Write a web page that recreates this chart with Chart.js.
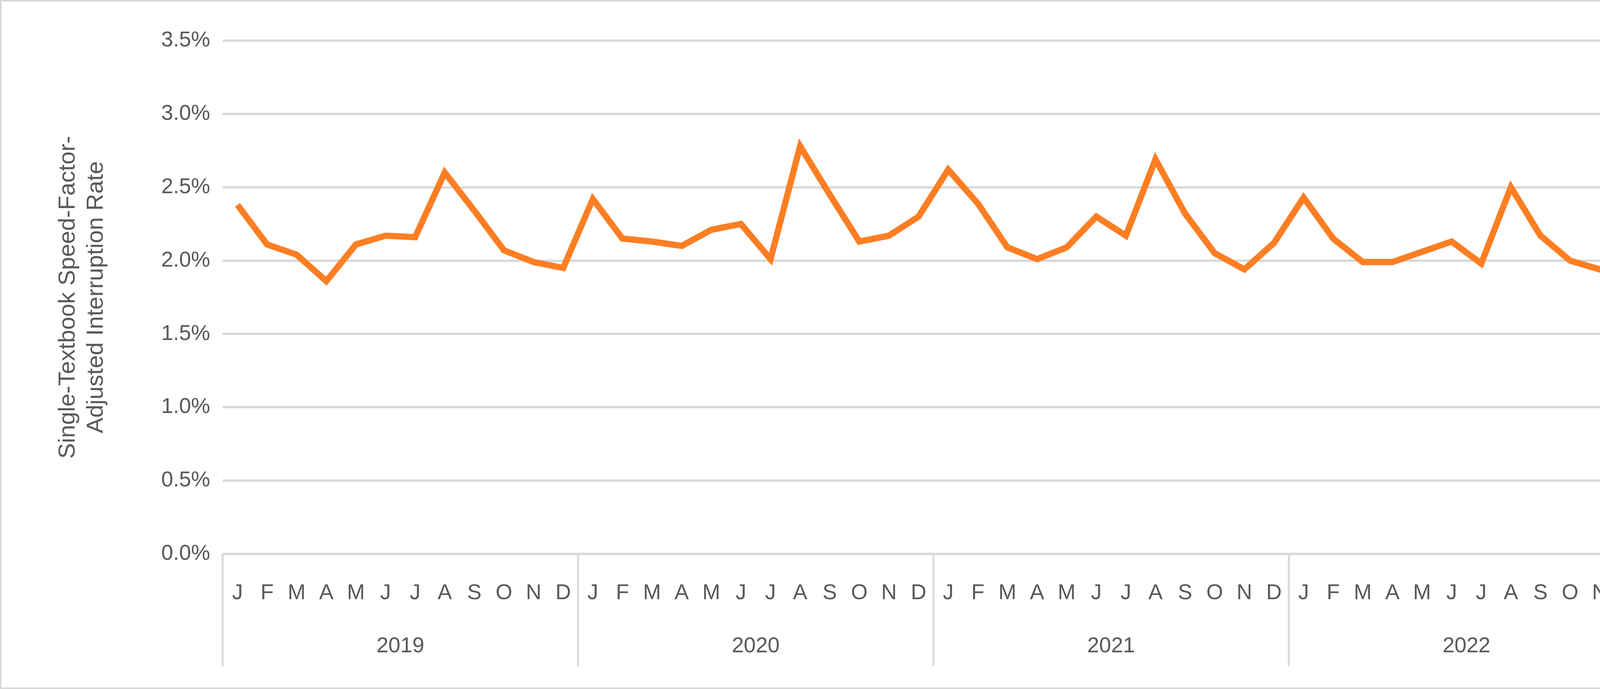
<!DOCTYPE html>
<html lang="en">
<head>
<meta charset="UTF-8">
<title>Interruption Rate</title>
<script src="https://cdn.jsdelivr.net/npm/chart.js"></script>
<style>
  html, body { margin: 0; padding: 0; background: #fff; overflow: hidden; }
  #wrap { width: 4308px; height: 1765px; position: relative; box-sizing: border-box; border: 4px solid #d9d9d9; }
  #inner { position: absolute; left: 0; top: 0; width: 4300px; height: 1757px; }
</style>
</head>
<body>
<div id="wrap"><div id="inner"><canvas id="rateChart"></canvas></div></div>
<script>
const years = ['2019', '2020', '2021', '2022'];
const months = ['J', 'F', 'M', 'A', 'M', 'J', 'J', 'A', 'S', 'O', 'N', 'D'];
const rate2019 = [2.38, 2.11, 2.04, 1.86, 2.11, 2.17, 2.16, 2.60, 2.34, 2.07, 1.99, 1.95];
const rate2020 = [2.42, 2.15, 2.13, 2.10, 2.21, 2.25, 2.01, 2.78, 2.45, 2.13, 2.17, 2.30];
const rate2021 = [2.62, 2.39, 2.09, 2.01, 2.09, 2.30, 2.17, 2.69, 2.32, 2.05, 1.94, 2.12];
const rate2022 = [2.43, 2.15, 1.99, 1.99, 2.06, 2.13, 1.98, 2.50, 2.17, 2.00, 1.94, 2.03];
const yTicks = [0, 0.5, 1.0, 1.5, 2.0, 2.5, 3.0, 3.5];

const labels = [];
years.forEach(() => months.forEach(m => labels.push(m)));
const values = [].concat(rate2019, rate2020, rate2021, rate2022);

// draws year row and separators under the month labels
const yearRows = {
    id: 'yearRows',
    afterDraw(chart) {
        const ctx = chart.ctx;
        const x = chart.scales.x;
        const top = chart.chartArea.bottom;
        const bottom = x.bottom;
        const step = x.getPixelForValue(1) - x.getPixelForValue(0);
        ctx.save();
        ctx.strokeStyle = '#d9d9d9';
        ctx.lineWidth = 5;
        ctx.fillStyle = '#595959';
        ctx.font = '55px "Liberation Sans", Arial, sans-serif';
        ctx.textAlign = 'center';
        ctx.textBaseline = 'middle';
        years.forEach((yr, i) => {
            const left = x.getPixelForValue(i * 12) - step / 2;
            const right = x.getPixelForValue(i * 12 + 11) + step / 2;
            ctx.beginPath();
            ctx.moveTo(left, top); ctx.lineTo(left, bottom);
            ctx.stroke();
            if (i === years.length - 1) {
                ctx.beginPath();
                ctx.moveTo(right, top); ctx.lineTo(right, bottom);
                ctx.stroke();
            }
            ctx.fillText(yr, (left + right) / 2, bottom - 50);
        });
        ctx.restore();
    }
};

new Chart(document.getElementById('rateChart'), {
    type: 'line',
    data: {
        labels: labels,
        datasets: [{
            data: values,
            borderColor: '#fd7e23',
            borderWidth: 16,
            pointRadius: 0,
            tension: 0,
            borderJoinStyle: 'miter',
            fill: false
        }]
    },
    options: {
        responsive: true,
        maintainAspectRatio: false,
        animation: false,
        layout: { padding: { top: 100, right: 95, bottom: 55, left: 130 } },
        plugins: { legend: { display: false }, tooltip: { enabled: false } },
        scales: {
            x: {
                offset: true,
                grid: { display: false, drawTicks: false },
                border: { display: false },
                ticks: {
                    color: '#595959',
                    font: { size: 55, family: '"Liberation Sans", Arial, sans-serif' },
                    padding: 68,
                    maxRotation: 0,
                    autoSkip: false
                },
                afterFit(scale) { scale.height = 287; }
            },
            y: {
                min: 0,
                max: 3.5,
                afterBuildTicks(scale) { scale.ticks = yTicks.map(v => ({ value: v })); },
                grid: { color: '#d9d9d9', lineWidth: 6, drawTicks: false },
                border: { display: false },
                ticks: {
                    color: '#595959',
                    font: { size: 55, family: '"Liberation Sans", Arial, sans-serif' },
                    padding: 32,
                    callback: v => v.toFixed(1) + '%'
                },
                title: {
                    display: true,
                    text: ['Single-Textbook Speed-Factor-', 'Adjusted Interruption Rate'],
                    color: '#595959',
                    font: { size: 60, family: '"Liberation Sans", Arial, sans-serif' },
                    padding: { bottom: 0 }
                },
                afterFit(scale) { scale.width = 436; }
            }
        }
    },
    plugins: [yearRows]
});
</script>
</body>
</html>
